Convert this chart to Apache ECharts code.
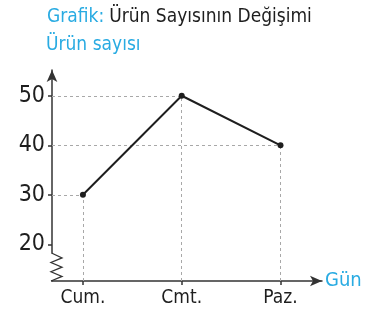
<!DOCTYPE html>
<html>
<head>
<meta charset="utf-8">
<script src="https://cdn.jsdelivr.net/npm/echarts@6/dist/echarts.min.js"></script>
<style>
  html, body { margin: 0; padding: 0; background: #fff; }
  #chart { width: 367px; height: 323px; }
</style>
</head>
<body>
<div id="chart"></div>
<script>
// Days on the horizontal axis and product counts for each day
const days = ['Cum.', 'Cmt.', 'Paz.'];
const counts = [30, 50, 40];
const yTicks = [20, 30, 40, 50];

const BLUE = '#29abe2';
const INK = '#1e1e1e';
const FONT = '"DejaVu Sans Condensed", "DejaVu Sans", sans-serif';

// Axis extents (the y axis is broken below 20, shown with a zigzag)
const xMin = -0.313, xMax = 2.42;
const yMin = 12.6, yMax = 55.2;

const chart = echarts.init(document.getElementById('chart'));

// Dashed guides from each point back to both axes
const guides = [];
counts.forEach((v, i) => {
  guides.push([{ coord: [xMin, v] }, { coord: [i, v] }]);
  guides.push([{ coord: [i, yMin] }, { coord: [i, v] }]);
});

chart.setOption({
  animation: false,
  title: {
    text: '{b|Grafik:} {k|Ürün Sayısının Değişimi}',
    left: 42,
    top: 3,
    textStyle: {
      rich: {
        b: { color: BLUE, fontSize: 19, fontWeight: 'normal', fontFamily: FONT },
        k: { color: INK, fontSize: 19, fontWeight: 'normal', fontFamily: FONT }
      }
    }
  },
  grid: { left: 52, right: 45, top: 70, bottom: 42 },
  xAxis: {
    type: 'value',
    min: xMin,
    max: xMax,
    name: 'Gün',
    nameGap: 3,
    nameTextStyle: { color: BLUE, fontSize: 20, fontFamily: FONT, verticalAlign: 'middle' },
    splitLine: { show: false },
    axisLine: {
      onZero: false,
      symbol: ['none', 'arrow'],
      symbolSize: [8, 12],
      lineStyle: { color: '#333', width: 1.5 }
    },
    axisTick: {
      customValues: [0, 1, 2],
      length: 4,
      lineStyle: { color: '#333', width: 1.5 }
    },
    axisLabel: {
      customValues: [0, 1, 2],
      formatter: (v) => days[Math.round(v)],
      color: INK,
      fontSize: 19,
      fontFamily: FONT,
      margin: 8
    }
  },
  yAxis: {
    type: 'value',
    min: yMin,
    max: yMax,
    name: 'Ürün sayısı',
    nameLocation: 'end',
    nameGap: 15,
    nameTextStyle: { color: BLUE, fontSize: 19, fontFamily: FONT, align: 'left', padding: [0, 0, 0, -6] },
    splitLine: { show: false },
    axisLine: {
      show: true,
      onZero: false,
      symbol: ['none', 'arrow'],
      symbolSize: [8, 12],
      lineStyle: { color: '#333', width: 1.5 }
    },
    axisTick: {
      customValues: yTicks,
      length: 4,
      lineStyle: { color: '#333', width: 1.5 }
    },
    axisLabel: {
      customValues: yTicks,
      color: INK,
      fontSize: 23,
      fontFamily: FONT,
      margin: 7
    }
  },
  series: [{
    type: 'line',
    data: counts.map((v, i) => [i, v]),
    symbol: 'circle',
    symbolSize: 6,
    z: 5,
    lineStyle: { color: INK, width: 2 },
    itemStyle: { color: INK },
    markLine: {
      silent: true,
      symbol: 'none',
      label: { show: false },
      z: 1,
      lineStyle: { color: '#a8a8a8', width: 1, type: [3, 3] },
      data: guides
    }
  }]
});

// Axis break: cover the lowest part of the y axis and draw a zigzag in its place
const breakTop = chart.convertToPixel({ gridIndex: 0 }, [xMin, 18.2]);
const breakBot = chart.convertToPixel({ gridIndex: 0 }, [xMin, yMin]);
const bx = breakTop[0], by0 = breakTop[1], by1 = breakBot[1];
const steps = 6;
const zig = [[bx, by0]];
for (let k = 1; k <= steps; k++) {
  const y = by0 + (by1 - by0) * k / steps;
  zig.push([k % 2 ? bx + 10 : bx - 1, y]);
}
chart.setOption({
  graphic: [
    { type: 'rect', shape: { x: bx - 3, y: by0 + 0.5, width: 6, height: by1 - by0 - 1.5 }, style: { fill: '#fff' }, z: 100 },
    { type: 'polyline', shape: { points: zig }, style: { stroke: '#333', lineWidth: 1.3, fill: null }, z: 101 }
  ]
});
</script>
</body>
</html>
